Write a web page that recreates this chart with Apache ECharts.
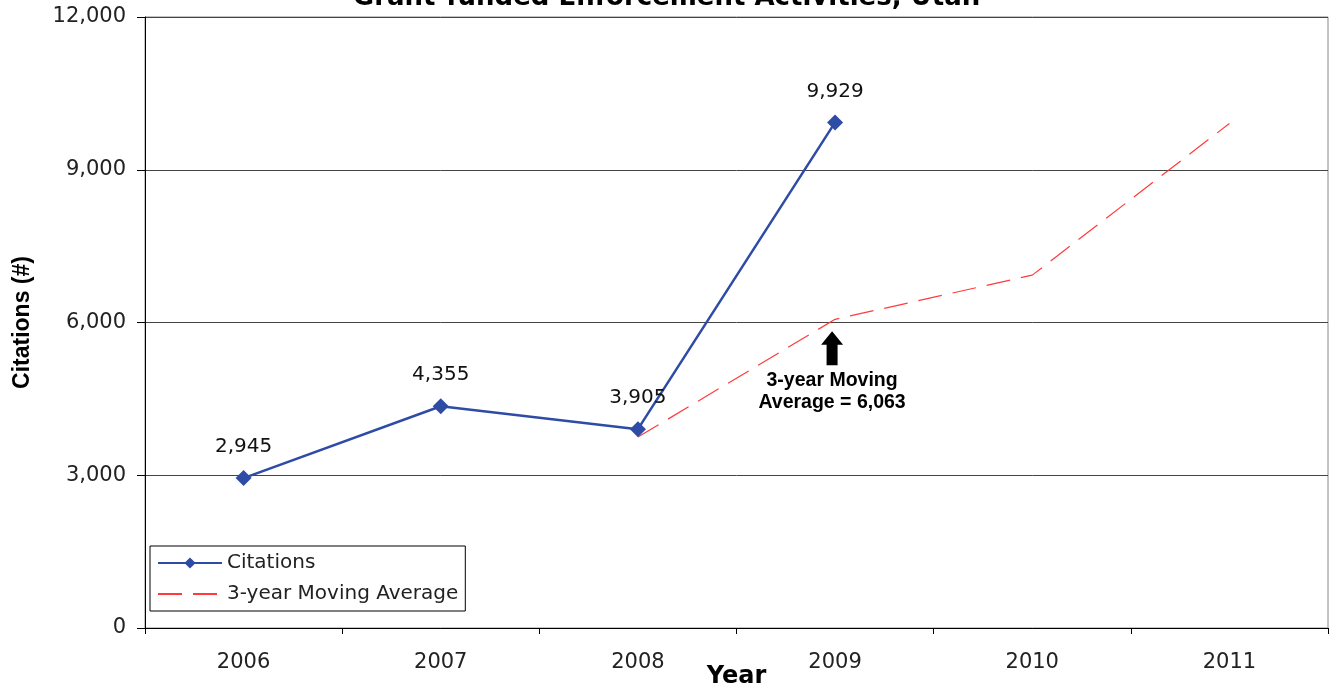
<!DOCTYPE html>
<html>
<head>
<meta charset="utf-8">
<script src="https://cdn.jsdelivr.net/npm/echarts@6/dist/echarts.min.js"></script>
<style>html,body{margin:0;padding:0;background:#fff}#c{width:1333px;height:694px}</style>
</head>
<body>
<div id="c"></div>
<script>
const years = ['2006', '2007', '2008', '2009', '2010', '2011'];
const citations = [2945, 4355, 3905, 9929, null, null];
const movingAvg = [null, null, 3750, 6063, 6930, 9910];
const yTicks = [0, 3000, 6000, 9000, 12000];
const titleText = 'Grant-funded Enforcement Activities, Utah';
const annotationText = '3-year Moving\nAverage = 6,063';

const chart = echarts.init(document.getElementById('c'));
chart.setOption({
  animation: false,
  backgroundColor: '#fff',
  title: {
    text: titleText, left: 'center', top: -20,
    textStyle: { fontFamily: 'DejaVu Sans', fontWeight: 'bold', fontSize: 26, color: '#000' }
  },
  grid: {
    left: 145, right: 5, top: 17, bottom: 66,
    containLabel: false, outerBoundsMode: 'none',
    show: true, borderColor: '#888', borderWidth: 1
  },
  legend: {
    left: 150, top: 546, orient: 'vertical',
    backgroundColor: '#fff', borderColor: '#000', borderWidth: 1,
    padding: [7, 7, 7, 7], itemWidth: 64, itemHeight: 14, itemGap: 11,
    textStyle: { fontFamily: 'DejaVu Sans', fontSize: 20, color: '#222' },
    data: [
      { name: 'Citations' },
      { name: '3-year Moving Average', itemStyle: { opacity: 0 } }
    ]
  },
  xAxis: {
    type: 'category', data: years, boundaryGap: true,
    name: 'Year', nameLocation: 'middle', nameGap: 37, nameMoveOverlap: false,
    nameTextStyle: { fontFamily: 'DejaVu Sans', fontWeight: 'bold', fontSize: 24, color: '#000' },
    axisLine: { lineStyle: { color: '#000', width: 1 } },
    axisTick: { show: true, length: 6, alignWithLabel: false, lineStyle: { color: '#000' } },
    axisLabel: { margin: 24, fontFamily: 'DejaVu Sans', fontSize: 21, color: '#222' },
    splitLine: { show: false }
  },
  yAxis: {
    type: 'value', min: 0, max: 12000, interval: 3000,
    name: 'Citations (#)', nameLocation: 'middle', nameGap: 111, nameMoveOverlap: false,
    nameTextStyle: { fontFamily: 'Liberation Sans, Arial', fontWeight: 'bold', fontSize: 23, color: '#000' },
    axisLine: { show: true, lineStyle: { color: '#000', width: 1 } },
    axisTick: { show: true, length: 8, inside: false, lineStyle: { color: '#000' } },
    axisLabel: {
      margin: 19, fontFamily: 'DejaVu Sans', fontSize: 21, color: '#222',
      formatter: v => yTicks.includes(v) ? v.toLocaleString('en-US') : ''
    },
    splitLine: { show: true, lineStyle: { color: '#444', width: 1 } }
  },
  series: [
    {
      name: 'Citations', type: 'line', data: citations,
      connectNulls: false,
      symbol: 'diamond', symbolSize: 16, showSymbol: true,
      itemStyle: { color: '#2E4BA6' },
      lineStyle: { color: '#2E4BA6', width: 2.5 },
      label: {
        show: true, position: 'top', distance: 13,
        fontFamily: 'DejaVu Sans', fontSize: 20, color: '#111',
        formatter: p => p.value == null ? '' : Number(p.value).toLocaleString('en-US')
      },
      z: 3
    },
    {
      name: '3-year Moving Average', type: 'line', data: movingAvg,
      symbol: 'none', showSymbol: false,
      itemStyle: { color: '#FF3B3B' },
      lineStyle: { color: '#FF3B3B', width: 1.2, type: [24, 11] },
      markPoint: {
        silent: true,
        data: [{ coord: ['2009', 6063] }],
        symbol: 'path://M11,0 L22,13 L16.5,13 L16.5,33 L5.5,33 L5.5,13 L0,13 Z',
        symbolSize: [22, 34], symbolOffset: [-3, 29],
        itemStyle: { color: '#000' },
        label: {
          show: true, position: 'bottom', distance: 4,
          formatter: annotationText, align: 'center',
          fontFamily: 'Liberation Sans, Arial', fontWeight: 'bold',
          fontSize: 19.5, lineHeight: 22, color: '#000'
        }
      },
      z: 2
    }
  ]
});
</script>
</body>
</html>
